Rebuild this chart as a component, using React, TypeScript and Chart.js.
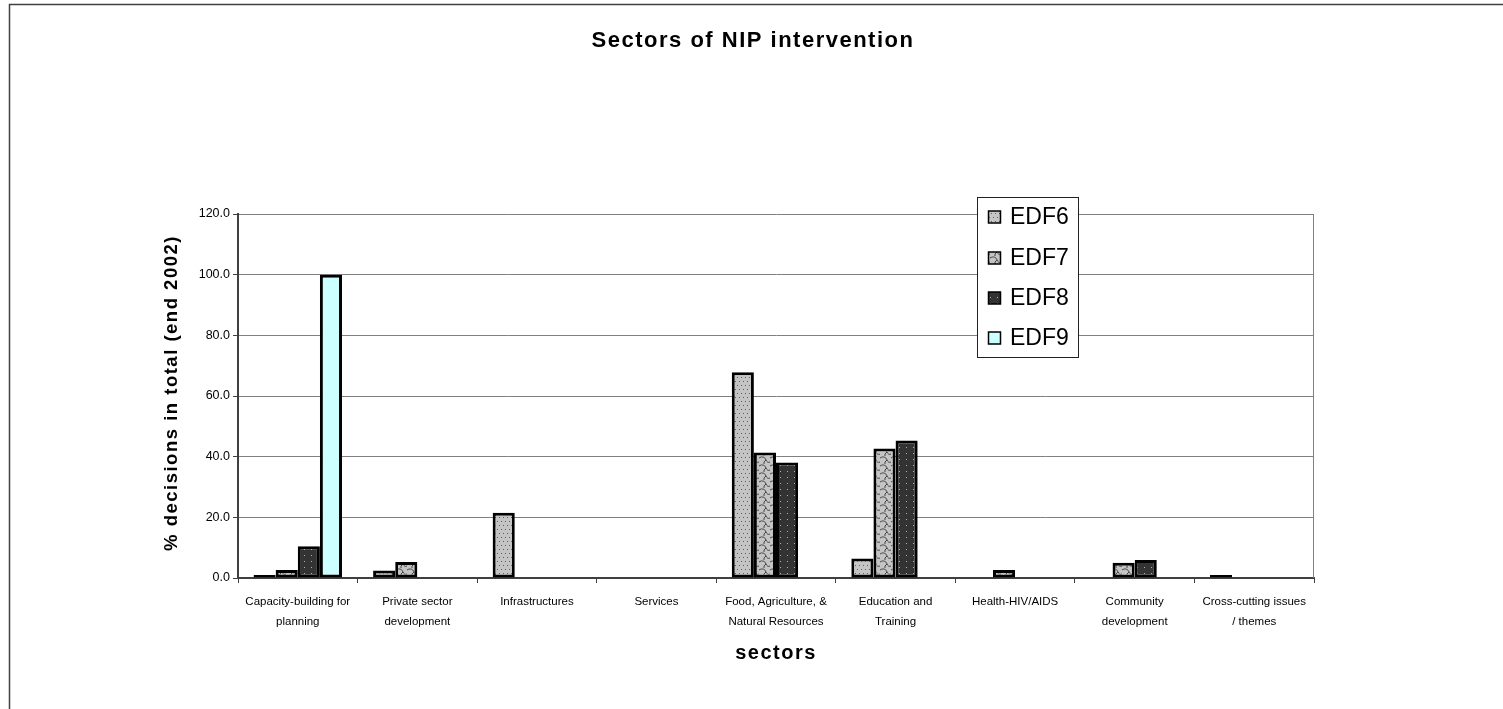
import React, { useEffect, useRef } from 'react';
import { Chart, registerables } from 'chart.js';

Chart.register(...registerables);

const categories: (string | string[])[] = [
  ['Capacity-building for', 'planning'],
  ['Private sector', 'development'],
  'Infrastructures',
  'Services',
  ['Food, Agriculture, &', 'Natural Resources'],
  ['Education and', 'Training'],
  'Health-HIV/AIDS',
  ['Community', 'development'],
  ['Cross-cutting issues', '/ themes'],
];

const seriesNames = ['EDF6', 'EDF7', 'EDF8', 'EDF9'];

const edf6 = [1.0, 2.5, 21.5, null, 67.8, 6.4, null, null, 1.0];
const edf7 = [2.6, 5.3, null, null, 41.4, 42.7, 2.6, 5.0, null];
const edf8 = [10.5, null, null, null, 38.1, 45.3, null, 5.9, null];
const edf9 = [100.0, null, null, null, null, null, null, null, null];

const yTickValues = [0, 20, 40, 60, 80, 100, 120];

const FONT = '"Liberation Sans", Arial, sans-serif';

function tile(w: number, h: number, draw: (c: CanvasRenderingContext2D) => void): CanvasPattern {
  const cv = document.createElement('canvas');
  cv.width = w;
  cv.height = h;
  const c = cv.getContext('2d')!;
  draw(c);
  const ctx = document.createElement('canvas').getContext('2d')!;
  return ctx.createPattern(cv, 'repeat')!;
}

function makePatterns() {
  const p6 = tile(4, 8, (c) => {
    c.fillStyle = '#c4c4c4';
    c.fillRect(0, 0, 4, 8);
    c.fillStyle = '#5e5e5e';
    c.fillRect(1, 1, 1, 1);
    c.fillRect(3, 5, 1, 1);
  });
  const p7 = tile(11, 8, (c) => {
    c.fillStyle = '#c4c4c4';
    c.fillRect(0, 0, 11, 8);
    c.strokeStyle = '#454545';
    c.lineWidth = 1;
    c.beginPath();
    c.moveTo(0, 2);
    c.bezierCurveTo(3, 0, 6, 1, 7, 4);
    c.bezierCurveTo(8, 6, 9, 7, 11, 6);
    c.stroke();
    c.beginPath();
    c.moveTo(7, 4);
    c.quadraticCurveTo(4, 6, 5, 8);
    c.stroke();
  });
  const p8 = tile(7, 6, (c) => {
    c.fillStyle = '#333333';
    c.fillRect(0, 0, 7, 6);
    c.fillStyle = '#b0b0b0';
    c.fillRect(3, 3, 1, 1);
  });
  return [p6, p7, p8, '#ccffff'];
}

export default function App() {
  const ref = useRef<HTMLCanvasElement>(null);

  useEffect(() => {
    const canvas = ref.current!;
    const fills = makePatterns();
    const seriesData = [edf6, edf7, edf8, edf9];

    const decor = {
      id: 'decor',
      beforeDraw(chart: any) {
        const ctx: CanvasRenderingContext2D = chart.ctx;
        ctx.save();
        ctx.fillStyle = '#ffffff';
        ctx.fillRect(0, 0, chart.width, chart.height);
        ctx.strokeStyle = '#404040';
        ctx.lineWidth = 1.5;
        ctx.beginPath();
        ctx.moveTo(9.5, chart.height);
        ctx.lineTo(9.5, 4.5);
        ctx.lineTo(chart.width, 4.5);
        ctx.stroke();
        ctx.restore();
      },
      afterDatasetsDraw(chart: any) {
        const ctx: CanvasRenderingContext2D = chart.ctx;
        const a = chart.chartArea;
        ctx.save();
        ctx.strokeStyle = '#808080';
        ctx.lineWidth = 1;
        ctx.beginPath();
        ctx.moveTo(a.right - 0.5, a.top);
        ctx.lineTo(a.right - 0.5, a.bottom);
        ctx.stroke();
        ctx.restore();
      },
      afterDraw(chart: any) {
        const ctx: CanvasRenderingContext2D = chart.ctx;
        const a = chart.chartArea;
        ctx.save();
        ctx.fillStyle = '#000';
        // main title
        (ctx as any).letterSpacing = '1.5px';
        ctx.font = `bold 22px ${FONT}`;
        ctx.textAlign = 'center';
        ctx.textBaseline = 'alphabetic';
        ctx.fillText('Sectors of NIP intervention', 753, 47);
        // x title
        (ctx as any).letterSpacing = '1.5px';
        ctx.font = `bold 20px ${FONT}`;
        ctx.fillText('sectors', (a.left + a.right) / 2, 659);
        // y title
        (ctx as any).letterSpacing = '1.5px';
        ctx.font = `bold 18.5px ${FONT}`;
        ctx.save();
        ctx.translate(172, 393);
        ctx.rotate(-Math.PI / 2);
        ctx.textBaseline = 'middle';
        ctx.fillText('% decisions in total (end 2002)', 0, 0);
        ctx.restore();
        // legend
        (ctx as any).letterSpacing = '0px';
        const lx = 977.5, ly = 197.5, lw = 101, lh = 160;
        ctx.fillStyle = '#ffffff';
        ctx.fillRect(lx, ly, lw, lh);
        ctx.strokeStyle = '#222';
        ctx.lineWidth = 1;
        ctx.strokeRect(lx, ly, lw, lh);
        const rows = [217, 258, 298, 338];
        ctx.font = `23px ${FONT}`;
        ctx.textAlign = 'left';
        ctx.textBaseline = 'middle';
        seriesNames.forEach((name, i) => {
          const y = rows[i];
          ctx.fillStyle = fills[i] as any;
          ctx.fillRect(988.5, y - 6, 12, 12);
          ctx.strokeStyle = '#000';
          ctx.lineWidth = 1.5;
          ctx.strokeRect(988.5, y - 6, 12, 12);
          ctx.fillStyle = '#000';
          ctx.fillText(name, 1010, y + 1);
        });
        ctx.restore();
      },
    };

    const chart = new Chart(canvas, {
      type: 'bar',
      data: {
        labels: categories as any,
        datasets: seriesNames.map((name, i) => ({
          label: name,
          data: seriesData[i] as any,
          backgroundColor: fills[i] as any,
          borderColor: '#000000',
          borderWidth: 3,
          borderSkipped: false,
          categoryPercentage: 0.74,
          barPercentage: 1,
        })),
      },
      options: {
        animation: false,
        responsive: false,
        events: [],
        layout: { padding: { left: 0, right: 189, top: 214, bottom: 0 } },
        plugins: {
          legend: { display: false },
          title: { display: false },
          tooltip: { enabled: false },
        },
        scales: {
          x: {
            grid: {
              display: true,
              drawOnChartArea: false,
              drawTicks: true,
              tickLength: 5,
              color: '#404040',
              offset: true,
            },
            border: { display: true, color: '#404040', width: 2 },
            ticks: {
              autoSkip: false,
              maxRotation: 0,
              minRotation: 0,
              padding: 9,
              color: '#000',
              font: { family: FONT, size: 11.5, lineHeight: 1.75 },
            },
            afterFit: (s: any) => {
              s.height = 131;
            },
          },
          y: {
            min: 0,
            max: 120,
            afterBuildTicks: (s: any) => {
              s.ticks = yTickValues.map((v) => ({ value: v }));
            },
            ticks: {
              stepSize: 20,
              padding: 3,
              color: '#000',
              font: { family: FONT, size: 12.5 },
              callback: (v: any) => Number(v).toFixed(1),
            },
            grid: {
              color: '#808080',
              lineWidth: 1,
              tickLength: 5,
              tickColor: '#404040',
            },
            border: { display: true, color: '#404040', width: 2 },
            afterFit: (s: any) => {
              s.width = 238;
            },
          },
        },
      },
      plugins: [decor],
    });

    return () => chart.destroy();
  }, []);

  return (
    <div style={{ position: 'fixed', left: 0, top: 0, width: 1503, height: 709, background: '#fff' }}>
      <canvas ref={ref} width={1503} height={709} style={{ display: 'block' }} />
    </div>
  );
}
